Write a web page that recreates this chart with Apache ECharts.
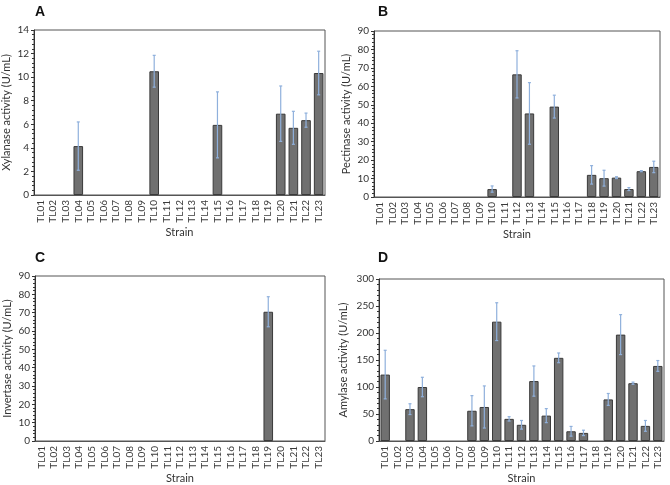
<!DOCTYPE html>
<html>
<head>
<meta charset="utf-8">
<script src="https://cdn.jsdelivr.net/npm/echarts@6/dist/echarts.min.js"></script>
<style>
  html, body { margin: 0; padding: 0; background: #fff; }
  #main { width: 670px; height: 485px; }
</style>
</head>
<body>
<div id="main"></div>
<script>
// strains
var strains = ['TL01','TL02','TL03','TL04','TL05','TL06','TL07','TL08','TL09','TL10','TL11','TL12',
               'TL13','TL14','TL15','TL16','TL17','TL18','TL19','TL20','TL21','TL22','TL23'];

// A - xylanase
var xylanase    = [0,0,0,4.15,0,0,0,0,0,10.5,0,0,0,0,5.95,0,0,0,0,6.9,5.7,6.35,10.35];
var xylanaseErr = [0,0,0,2.05,0,0,0,0,0,1.35,0,0,0,0,2.8,0,0,0,0,2.35,1.4,0.6,1.85];

// B - pectinase
var pectinase    = [0,0,0,0,0,0,0,0,0,4.3,0,66.5,45.3,0,49,0,0,12,10.2,10.5,4.3,14,16.3];
var pectinaseErr = [0,0,0,0,0,0,0,0,0,1.7,0,12.8,16.7,0,6.2,0,0,5,4.3,0.5,0.8,0.3,3.1];

// C - invertase
var invertase    = [0,0,0,0,0,0,0,0,0,0,0,0,0,0,0,0,0,0,70.5,0,0,0,0];
var invertaseErr = [0,0,0,0,0,0,0,0,0,0,0,0,0,0,0,0,0,0,8.2,0,0,0,0];

// D - amylase
var amylase    = [123,0,59,100,0,0,0,56,63,221,41,30,111,47,154,18,15,0,77,197,107,28,139];
var amylaseErr = [45,0,10,18,0,0,0,28,39,35,4,8,28,13,9,9,5,0,11,37,2,10,10];

var panels = [
  { letter: 'A', name: 'Xylanase activity (U/mL)',  vals: xylanase,  errs: xylanaseErr,  max: 14,  step: 2,  pos: [34, 30, 291, 165] },
  { letter: 'B', name: 'Pectinase activity (U/mL)', vals: pectinase, errs: pectinaseErr, max: 90,  step: 10, pos: [374, 31, 286, 166] },
  { letter: 'C', name: 'Invertase activity (U/mL)', vals: invertase, errs: invertaseErr, max: 90,  step: 10, pos: [35, 276, 290, 168] },
  { letter: 'D', name: 'Amylase activity (U/mL)',   vals: amylase,   errs: amylaseErr,   max: 300, step: 50, pos: [379, 279, 285, 165] }
];

var font = 'Lato, "Liberation Sans", sans-serif';
var grids = [], xAxes = [], yAxes = [], series = [], titles = [];

panels.forEach(function (p, i) {
  grids.push({
    left: p.pos[0], top: p.pos[1], width: p.pos[2], height: p.pos[3],
    show: true, borderColor: '#555', borderWidth: 1
  });
  xAxes.push({
    gridIndex: i, type: 'category', data: strains,
    name: 'Strain', nameLocation: 'middle', nameGap: 32,
    nameTextStyle: { fontFamily: font, fontSize: 11, color: '#333' },
    axisLine: { lineStyle: { color: '#555' } },
    axisTick: { show: false },
    axisLabel: { rotate: 90, interval: 0, fontFamily: font, fontSize: 10, color: '#3a3a3a', margin: 5 }
  });
  yAxes.push({
    gridIndex: i, type: 'value', min: 0, max: p.max, interval: p.step,
    name: p.name, nameLocation: 'middle', nameGap: p.max >= 100 ? 30 : 22,
    nameTextStyle: { fontFamily: font, fontSize: 11, color: '#333' },
    axisLine: { show: true, lineStyle: { color: '#333' } },
    axisTick: { show: true, length: 3, lineStyle: { color: '#333' } },
    minorTick: { show: true, splitNumber: 5, length: 2, lineStyle: { color: '#333' } },
    splitLine: { show: false },
    axisLabel: { fontFamily: font, fontSize: 10, color: '#333', margin: 5 }
  });
  series.push({
    type: 'bar', xAxisIndex: i, yAxisIndex: i,
    data: p.vals.map(function (v) { return v === 0 ? '-' : v; }),
    barWidth: '76%',
    itemStyle: { color: '#707070', borderColor: '#3a3a3a', borderWidth: 1 }
  });
  var errData = [];
  p.vals.forEach(function (v, k) {
    if (p.errs[k] > 0) errData.push([k, v - p.errs[k], v + p.errs[k]]);
  });
  series.push({
    type: 'custom', xAxisIndex: i, yAxisIndex: i, data: errData, z: 10,
    renderItem: function (params, api) {
      var lo = api.coord([api.value(0), api.value(1)]);
      var hi = api.coord([api.value(0), api.value(2)]);
      var c = 1.5;
      var st = { stroke: '#8fb0dc', lineWidth: 1.2 };
      return {
        type: 'group',
        children: [
          { type: 'line', shape: { x1: hi[0], y1: hi[1], x2: lo[0], y2: lo[1] }, style: st },
          { type: 'line', shape: { x1: hi[0] - c, y1: hi[1], x2: hi[0] + c, y2: hi[1] }, style: st },
          { type: 'line', shape: { x1: lo[0] - c, y1: lo[1], x2: lo[0] + c, y2: lo[1] }, style: st }
        ]
      };
    }
  });
  titles.push({
    text: p.letter, left: i % 2 === 0 ? 30 : 373, top: i < 2 ? 0 : 246,
    textStyle: { fontFamily: 'Liberation Sans, Arial, sans-serif', fontSize: 14, fontWeight: 'bold', color: '#111' }
  });
});

var myChart = echarts.init(document.getElementById('main'));
myChart.setOption({
  animation: false,
  title: titles,
  grid: grids,
  xAxis: xAxes,
  yAxis: yAxes,
  series: series
});
</script>
</body>
</html>
